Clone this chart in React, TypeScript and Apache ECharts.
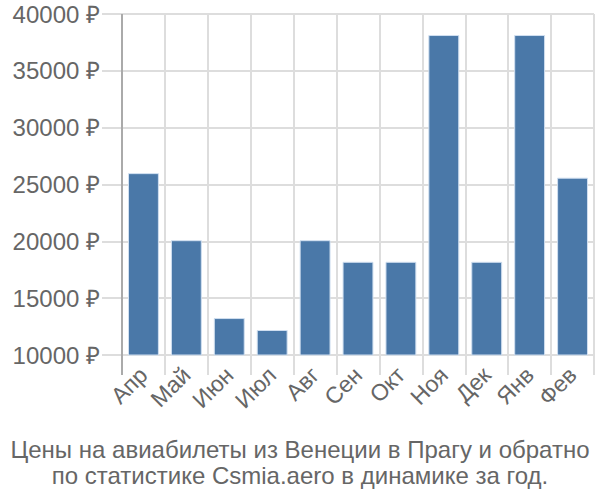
import React, { useEffect, useRef } from "react";
import * as echarts from "echarts";

const categories = ["Апр", "Май", "Июн", "Июл", "Авг", "Сен", "Окт", "Ноя", "Дек", "Янв", "Фев"];
const prices = [26000, 20100, 13250, 12200, 20100, 18200, 18200, 38150, 18200, 38150, 25600];
const titleLines = [
  "Цены на авиабилеты из Венеции в Прагу и обратно",
  "по статистике Csmia.aero в динамике за год.",
];

export default function App() {
  const ref = useRef<HTMLDivElement>(null);
  useEffect(() => {
    if (!ref.current) return;
    const chart = echarts.init(ref.current, undefined, { renderer: "svg" });
    const font = "'Liberation Sans', Arial, sans-serif";
    chart.setOption({
      animation: false,
      textStyle: { fontFamily: font },
      title: {
        text: titleLines.join("\n"),
        left: "center",
        top: 431,
        textStyle: { fontSize: 24, fontWeight: "normal", color: "#666", lineHeight: 26, fontFamily: font },
      },
      grid: { left: 122, right: 6, top: 14, bottom: 145, containLabel: false },
      xAxis: {
        type: "category",
        data: categories,
        boundaryGap: true,
        axisLine: { show: true, lineStyle: { color: "#ddd", width: 2 } },
        axisTick: { show: true, length: 20, lineStyle: { color: "#ddd", width: 2 } },
        splitLine: { show: true, lineStyle: { color: "#ddd", width: 2 } },
        axisLabel: { rotate: 45, fontSize: 23, color: "#666", margin: 16, fontFamily: font, interval: 0 },
      },
      yAxis: {
        type: "value",
        min: 10000,
        max: 40000,
        interval: 5000,
        axisLine: { show: false },
        axisTick: { show: true, length: 20, lineStyle: { color: "#ddd", width: 2 } },
        splitLine: { show: true, lineStyle: { color: "#ddd", width: 2 } },
        axisLabel: {
          formatter: (v: number) => `${v} ₽`,
          fontSize: 24,
          color: "#666",
          margin: 22,
          fontFamily: font,
        },
      },
      graphic: [
        { type: "line", shape: { x1: 122, y1: 14, x2: 122, y2: 375 }, style: { stroke: "#aaa", lineWidth: 2 }, z: 10 },
      ],
      series: [
        {
          type: "bar",
          data: prices,
          barWidth: "72%",
          itemStyle: { color: "#4a78a8", borderColor: "#d0dff0", borderWidth: 1 },
        },
      ],
    });
    return () => chart.dispose();
  }, []);
  return <div ref={ref} style={{ width: 600, height: 500, position: "absolute", left: 0, top: 0 }} />;
}
